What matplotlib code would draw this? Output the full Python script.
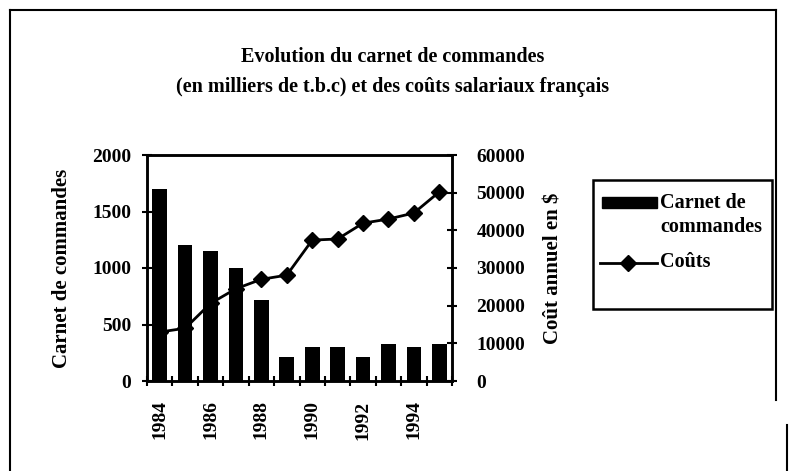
import matplotlib
matplotlib.use("Agg")
import matplotlib.pyplot as plt
from matplotlib.lines import Line2D
from matplotlib.patches import Rectangle
import numpy as np

years = [1984, 1985, 1986, 1987, 1988, 1989, 1990, 1991, 1992, 1993, 1994, 1995]
carnet = [1700, 1200, 1150, 1000, 720, 210, 300, 300, 210, 330, 300, 330]
couts = [13000, 14000, 20600, 24500, 27000, 28100, 37400, 37700, 41900, 43000, 44600, 50200]
tick_years = [1984, 1986, 1988, 1990, 1992, 1994]
legend_labels = ['Carnet de\ncommandes', 'Coûts']

plt.rcParams['font.family'] = ['Liberation Serif', 'DejaVu Serif']
plt.rcParams['font.weight'] = 'bold'

fig = plt.figure(figsize=(7.89, 4.71), dpi=100)
W, H = 789, 471


def fx(px):
    return px / W


def fy(py):
    return 1 - py / H


# outer frame
fig.add_artist(Line2D([fx(10), fx(10)], [0, fy(10)], color='black', lw=1.5))
fig.add_artist(Line2D([fx(10), fx(776)], [fy(10), fy(10)], color='black', lw=1.5))
fig.add_artist(Line2D([fx(776), fx(776)], [fy(10), fy(400)], color='black', lw=1.5))
fig.add_artist(Line2D([fx(787), fx(787)], [fy(425), 0], color='black', lw=1.5))

ax = fig.add_axes([fx(147), fy(381), (452 - 147) / W, (381 - 155) / H])
ax2 = ax.twinx()
ax.set_zorder(ax2.get_zorder() + 1)
ax.patch.set_visible(False)

x = np.arange(len(years))
bars = ax.bar(x, carnet, width=0.58, color='black', zorder=2)
ax.set_xlim(-0.5, len(years) - 0.5)
ax.set_ylim(0, 2000)
ax.set_yticks([0, 500, 1000, 1500, 2000])
ax.set_yticklabels(['0', '500', '1000', '1500', '2000'], fontsize=14, fontweight='bold')
ax.tick_params(axis='y', direction='inout', length=7, width=1.5, pad=8)

ax.set_xticks([x[years.index(y)] for y in tick_years])
ax.set_xticklabels([str(y) for y in tick_years], rotation=90, fontsize=14, fontweight='bold')
ax.set_xticks(np.arange(-0.5, len(years), 1.0), minor=True)
ax.tick_params(axis='x', which='major', length=0, pad=14)
ax.tick_params(axis='x', which='minor', direction='inout', length=7, width=1.5)
for s in ax.spines.values():
    s.set_linewidth(1.8)
ax.set_ylabel('Carnet de commandes', fontsize=15, fontweight='bold', labelpad=14)

line, = ax2.plot(x, couts, color='black', lw=2, marker='D', markersize=8, zorder=3)
ax2.set_ylim(0, 60000)
ax2.set_yticks([0, 10000, 20000, 30000, 40000, 50000, 60000])
ax2.set_yticklabels(['0', '10000', '20000', '30000', '40000', '50000', '60000'],
                    fontsize=14, fontweight='bold')
ax2.tick_params(axis='y', direction='inout', length=7, width=1.5, pad=14)
for s in ax2.spines.values():
    s.set_linewidth(1.8)
ax2.set_ylabel('Coût annuel en $', fontsize=15, fontweight='bold', labelpad=13)

fig.text(fx(393), fy(57), 'Evolution du carnet de commandes', ha='center', va='center',
         fontsize=14.5, fontweight='bold')
fig.text(fx(393), fy(87), '(en milliers de t.b.c) et des coûts salariaux français', ha='center',
         va='center', fontsize=14.5, fontweight='bold')

# legend (drawn by hand to match the box proportions)
fig.add_artist(Rectangle((fx(593), fy(309)), (772 - 593) / W, (309 - 180) / H,
                         fill=False, edgecolor='black', lw=1.8))
fig.add_artist(Rectangle((fx(602), fy(208)), (657 - 602) / W, (208 - 197) / H,
                         facecolor='black', edgecolor='black'))
fig.text(fx(660), fy(215), legend_labels[0], ha='left', va='center', fontsize=14.5,
         fontweight='bold', linespacing=1.3)
fig.add_artist(Line2D([fx(600), fx(657)], [fy(263), fy(263)], color='black', lw=2))
fig.add_artist(Line2D([fx(628)], [fy(263)], color='black', marker='D', markersize=8))
fig.text(fx(660), fy(262), legend_labels[1], ha='left', va='center', fontsize=14.5,
         fontweight='bold')

fig.savefig('out.png', dpi=100)
